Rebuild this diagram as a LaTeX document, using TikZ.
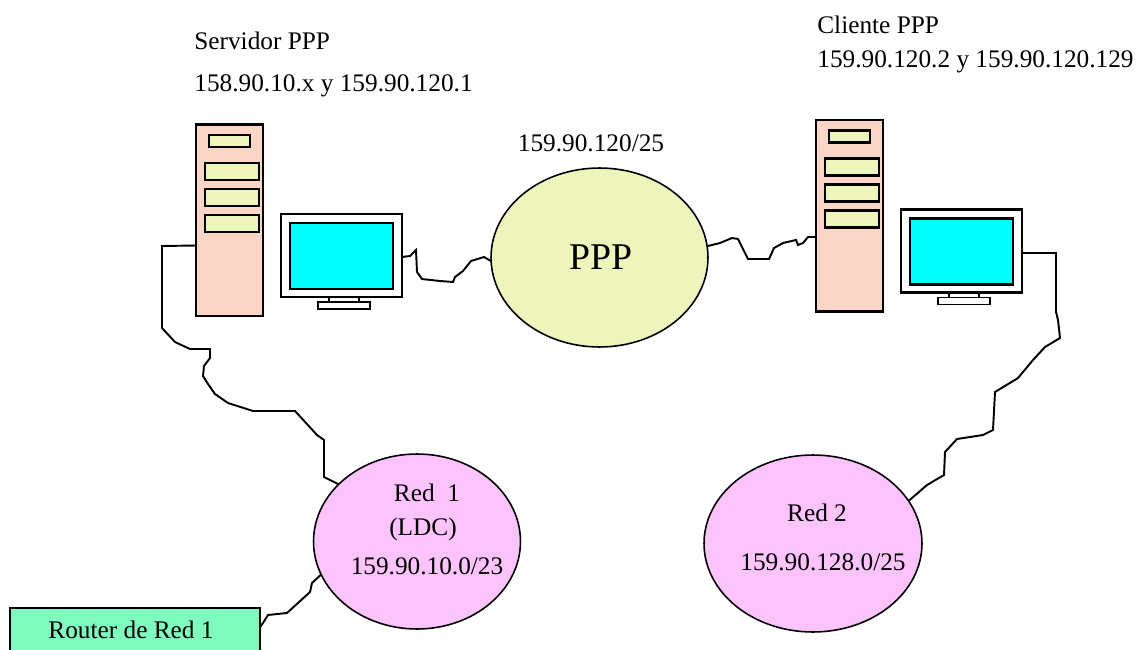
\documentclass[tikz,border=0pt]{standalone}
\usepackage{fontspec}
\setmainfont{Liberation Serif}
\usetikzlibrary{shapes.geometric}
\definecolor{srvpink}{HTML}{FBD5C8}
\definecolor{slotgreen}{HTML}{EEF5BC}
\definecolor{netpink}{HTML}{FDC3FD}
\definecolor{routergreen}{HTML}{7FFBBF}
\definecolor{scrcyan}{HTML}{00FFFF}
\tikzset{
	box/.style={draw, rectangle, line width=1.4pt, inner sep=0, outer sep=0},
	net/.style={draw, ellipse, line width=0.9pt, inner sep=0, outer sep=0},
	wire/.style={line width=1.1pt},
	lbl/.style={inner sep=0, font=\fontsize{14.4}{17}\selectfont},
}
\begin{document}
\begin{tikzpicture}[x=0.02cm,y=-0.02cm]
	\useasboundingbox (0,0) rectangle (1139,649);
	% server and monitor, twice
	\foreach \n/\dx/\dy in {L/0/0, R/620/-4.5}{
		\begin{scope}[shift={(\dx,\dy)}]
			\node[box, fill=srvpink, minimum width=1.34cm, minimum height=3.83cm] (srv\n) at (229.5,220.3) {};
			\node[box, fill=slotgreen, minimum width=.82cm, minimum height=.24cm] (slot\n a) at (229.5,141) {};
			\node[box, fill=slotgreen, minimum width=1.08cm, minimum height=.34cm] (slot\n b) at (232,171.5) {};
			\node[box, fill=slotgreen, minimum width=1.08cm, minimum height=.34cm] (slot\n c) at (232,197.5) {};
			\node[box, fill=slotgreen, minimum width=1.08cm, minimum height=.34cm] (slot\n d) at (232,223.5) {};
			\node[box, fill=white, line width=1.1pt, minimum width=.6cm, minimum height=.1cm] (neck\n) at (344,299.5) {};
			\node[box, fill=white, line width=1.1pt, minimum width=1.04cm, minimum height=.14cm] (base\n) at (344,305.5) {};
			\node[box, fill=white, minimum width=2.42cm, minimum height=1.66cm] (mon\n) at (341.5,255.5) {};
			\node[box, fill=scrcyan, minimum width=2.06cm, minimum height=1.32cm] (scr\n) at (341.5,256) {};
		\end{scope}
	}
	\node[net, fill=slotgreen, minimum width=4.34cm, minimum height=3.58cm] (ppp) at (599.5,257.5) {};
	\node[net, fill=netpink, minimum width=4.14cm, minimum height=3.5cm] (red1) at (417,541.5) {};
	\node[net, fill=netpink, minimum width=4.36cm, minimum height=3.54cm] (red2) at (813,543.5) {};
	\node[box, fill=routergreen, line width=1.1pt, minimum width=5cm, minimum height=.94cm] (router) at (135,631.5) {};
	% wires
	\draw[wire] (srvL.west |- 0,245.5) -- (162,246) -- (162,328) -- (175,342) -- (190,349) -- (210,349) -- (210,358) -- (204,366) -- (203,376) -- (208,384) -- (215,394) -- (228,403) -- (253,411) -- (295,411) -- (317,435) -- (324,440) -- (324,477) -- (338,484) -- (red1.144);
	\draw[wire] (monL.east |- 0,257) -- (410,256) -- (416,250) -- (417,272) -- (422,279) -- (440,281) -- (453,282) -- (455,277) -- (463,271) -- (471,261) -- (484,257) -- (491,261) -- (ppp.182);
	\draw[wire] (ppp.6) -- (720,243) -- (732,238) -- (738,239) -- (742,247) -- (748,259) -- (769,259) -- (774,248) -- (783,243) -- (796,240) -- (798,245) -- (803,243) -- (808,237) -- (srvR.west |- 0,237);
	\draw[wire] (monR.east |- 0,253) -- (1056,253) -- (1056,312) -- (1058,320) -- (1060,338) -- (1045,347) -- (1033,360) -- (1018,378) -- (995,392) -- (993,430) -- (983,435) -- (957,439) -- (945,452) -- (944,475) -- (927,485) -- (red2.24);
	\draw[wire] (red1.199) -- (312,583) -- (310,592) -- (287,613) -- (268,615) -- (263,623) -- (router.east |- 0,627);
	% labels
	\node[lbl, anchor=west] (srvname) at (194,41) {Servidor PPP};
	\node[lbl, anchor=west] (srvaddr) at (194,86) {158.90.10.x y 159.90.120.1};
	\node[lbl, anchor=west] (cliname) at (817,25) {Cliente PPP};
	\node[lbl, anchor=west] (cliaddr) at (817,62) {159.90.120.2 y 159.90.120.129};
	\node[lbl] (pppaddr) at (591,143) {159.90.120/25};
	\node[inner sep=0, font=\fontsize{21.5}{25}\selectfont] (ppptxt) at (601,257) {PPP};
	\node[lbl] (redatxt) at (427,493) {Red\ \ 1};
	\node[lbl] (redbtxt) at (423,529) {(LDC)};
	\node[lbl] (redcaddr) at (427,566) {159.90.10.0/23};
	\node[lbl] (reddtxt) at (817,513) {Red 2};
	\node[lbl] (redeaddr) at (823,562) {159.90.128.0/25};
	\node[lbl] (routertxt) at (131,630) {Router de Red 1};
\end{tikzpicture}
\end{document}
